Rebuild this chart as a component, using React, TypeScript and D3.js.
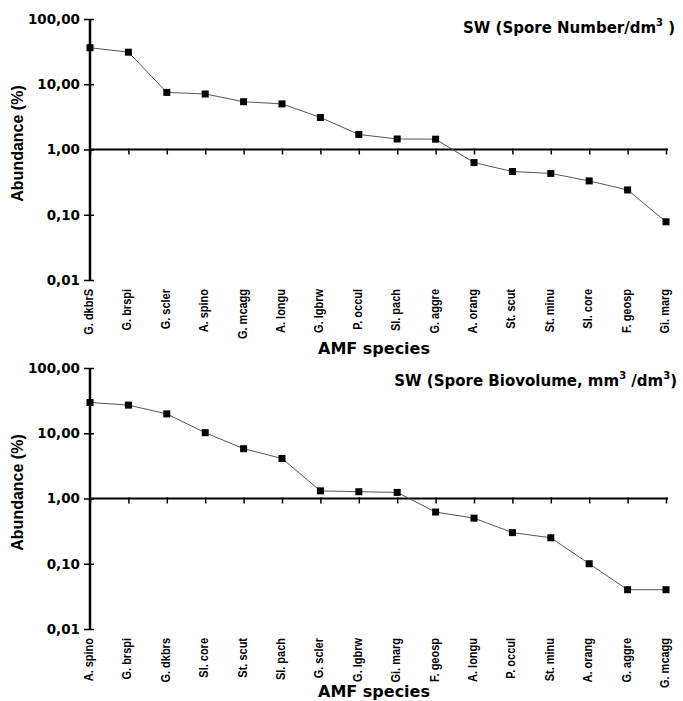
import React, { useEffect, useRef } from 'react';
import * as d3 from 'd3';

// SW spore number panel
const numberSpecies = ['G. dkbrS', 'G. brspi', 'G. scler', 'A. spino', 'G. mcagg', 'A. longu', 'G. lgbrw', 'P. occul', 'Sl. pach', 'G. aggre', 'A. orang', 'St. scut', 'St. minu', 'Sl. core', 'F. geosp', 'Gi. marg'];
const numberAbundance = [36.3, 31, 7.5, 7.1, 5.4, 5.0, 3.1, 1.7, 1.45, 1.44, 0.63, 0.46, 0.43, 0.33, 0.24, 0.078];

// SW spore biovolume panel
const biovolumeSpecies = ['A. spino', 'G. brspi', 'G. dkbrs', 'Sl. core', 'St. scut', 'Sl. pach', 'G. scler', 'G. lgbrw', 'Gi. marg', 'F. geosp', 'A. longu', 'P. occul', 'St. minu', 'A. orang', 'G. aggre', 'G. mcagg'];
const biovolumeAbundance = [29.6, 27, 19.8, 10.2, 5.8, 4.1, 1.31, 1.27, 1.24, 0.62, 0.50, 0.30, 0.25, 0.10, 0.040, 0.040];

const yTicks = [0.01, 0.1, 1, 10, 100];

const wideFont = '"DejaVu Sans", sans-serif';
const narrowFont = '"Liberation Sans", Arial, sans-serif';

const locale = d3.formatLocale({ decimal: ',', thousands: '.', grouping: [3], currency: ['', ''] });
const fmt = locale.format('.2f');

type Title = { text: string; sup?: boolean }[];

const drawPanel = (g: d3.Selection<SVGGElement, unknown, null, undefined>, species: string[], values: number[], title: Title, titleX: number, titleY: number, anchor: string, axisTitleY: number) => {
    const left = 90, right = 666, top = 19, bottom = 280;

    const x = d3.scalePoint<string>().domain(species).range([left, right]).padding(0);
    const y = d3.scaleLog().domain([0.01, 100]).range([bottom, top]);

    // y axis, ticks cross the line
    const yAxis = g.append('g')
        .attr('transform', `translate(${left},0)`)
        .call(d3.axisLeft(y).tickValues(yTicks).tickFormat(d => fmt(d as number)).tickSize(5).tickPadding(5));
    yAxis.select('.domain').attr('stroke', '#000').attr('stroke-width', 2.5).attr('d', `M0,${top}V${bottom}`);
    yAxis.selectAll('.tick line').attr('stroke', '#000').attr('stroke-width', 1.5).attr('x2', -6).attr('x1', 4);
    yAxis.selectAll('.tick text')
        .attr('font-family', wideFont).attr('font-weight', 'bold').attr('font-size', 13.5).attr('fill', '#000');

    // category axis crossing at 1,00
    const xAxis = g.append('g')
        .attr('transform', `translate(0,${y(1)})`)
        .call(d3.axisBottom(x).tickSize(5).tickFormat(() => ''));
    xAxis.select('.domain').attr('stroke', '#000').attr('stroke-width', 2).attr('d', `M${left},0H${right + 2}`);
    xAxis.selectAll('.tick line').attr('stroke', '#000').attr('stroke-width', 1.5).attr('y1', -1);

    // rotated species labels below the plot
    g.append('g')
        .selectAll('text')
        .data(species)
        .enter().append('text')
        .attr('transform', d => `translate(${x(d)! + 3},${bottom + 9}) rotate(-90) scale(1,1.2)`)
        .attr('text-anchor', 'end')
        .attr('font-family', narrowFont).attr('font-weight', 'bold').attr('font-size', 11)
        .text(d => d);

    // line and markers
    const pts = species.map((s, i) => [x(s)!, y(values[i])] as [number, number]);
    g.append('path')
        .attr('d', d3.line()(pts))
        .attr('fill', 'none').attr('stroke', '#555').attr('stroke-width', 1);
    g.selectAll('.mark')
        .data(pts)
        .enter().append('rect')
        .attr('class', 'mark')
        .attr('x', d => d[0] - 3.5).attr('y', d => d[1] - 3.5)
        .attr('width', 7).attr('height', 7)
        .attr('fill', '#000');

    // axis titles
    g.append('text')
        .attr('transform', `translate(${23},${y(1) - 6}) rotate(-90)`)
        .attr('text-anchor', 'middle')
        .attr('font-family', narrowFont).attr('font-weight', 'bold').attr('font-size', 16)
        .text('Abundance (%)');
    g.append('text')
        .attr('x', (left + right) / 2 - 4).attr('y', axisTitleY)
        .attr('text-anchor', 'middle')
        .attr('font-family', wideFont).attr('font-weight', 'bold').attr('font-size', 16)
        .text('AMF species');

    // panel title with superscripts
    const t = g.append('text')
        .attr('x', titleX).attr('y', titleY)
        .attr('text-anchor', anchor)
        .attr('font-family', wideFont).attr('font-weight', 'bold').attr('font-size', 15);
    let raised = false;
    title.forEach(p => {
        const dy = p.sup ? (raised ? 0 : -7) : (raised ? 7 : 0);
        raised = !!p.sup;
        t.append('tspan')
            .attr('font-size', p.sup ? 10 : 15)
            .attr('dy', dy)
            .text(p.text);
    });
};

const App = () => {
    const svgRef = useRef<SVGSVGElement>(null);

    useEffect(() => {
        const svg = d3.select(svgRef.current);
        svg.selectAll('*').remove();

        const top = svg.append('g');
        drawPanel(top, numberSpecies, numberAbundance,
            [{ text: 'SW (Spore Number/dm' }, { text: '3', sup: true }, { text: ' )' }],
            463, 33, 'start', 354);

        const bottom = svg.append('g').attr('transform', 'translate(0,349)');
        drawPanel(bottom, biovolumeSpecies, biovolumeAbundance,
            [{ text: 'SW (Spore Biovolume, mm' }, { text: '3', sup: true }, { text: ' /dm' }, { text: '3', sup: true }, { text: ')' }],
            677, 37, 'end', 348);
    }, []);

    return (
        <svg ref={svgRef} width={683} height={701}
            style={{ position: 'absolute', left: 0, top: 0, background: '#fff' }} />
    );
};

export default App;
